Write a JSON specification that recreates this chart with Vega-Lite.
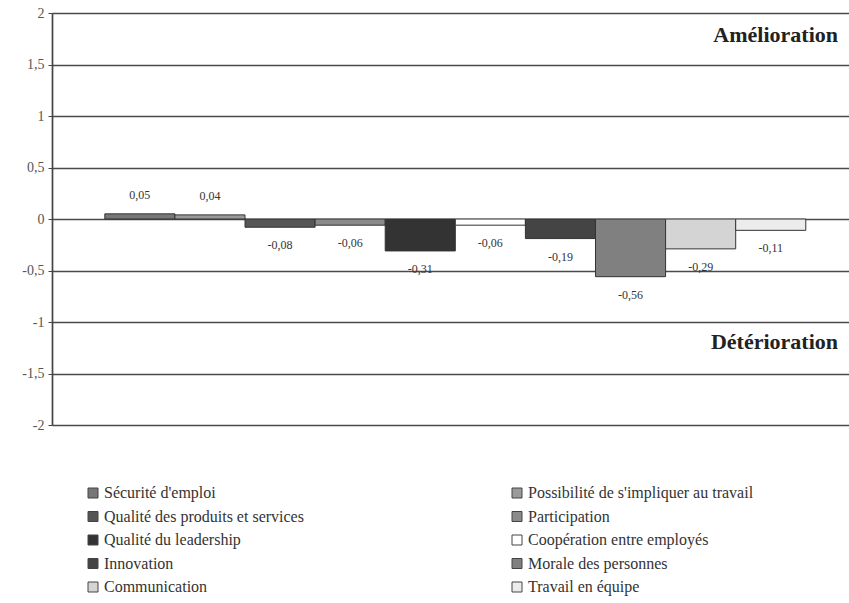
{
  "$schema": "https://vega.github.io/schema/vega-lite/v6.json",
  "width": 797,
  "height": 412,
  "autosize": "none",
  "padding": {"left": 52, "top": 13, "right": 0, "bottom": 178},
  "background": "white",
  "config": {
    "locale": {"number": {"decimal": ",", "thousands": " ", "grouping": [3], "currency": ["", " €"], "minus": "-"}},
    "view": {"stroke": null},
    "font": "Liberation Serif"
  },
  "datasets": {
    "bars": [
      {"item": "Sécurité d'emploi", "value": 0.05},
      {"item": "Possibilité de s'impliquer au travail", "value": 0.04},
      {"item": "Qualité des produits et services", "value": -0.08},
      {"item": "Participation", "value": -0.06},
      {"item": "Qualité du leadership", "value": -0.31},
      {"item": "Coopération entre employés", "value": -0.06},
      {"item": "Innovation", "value": -0.19},
      {"item": "Morale des personnes", "value": -0.56},
      {"item": "Communication", "value": -0.29},
      {"item": "Travail en équipe", "value": -0.11}
    ],
    "notes": [
      {"note": "Amélioration", "y": 1.79},
      {"note": "Détérioration", "y": -1.19}
    ]
  },
  "layer": [
    {
      "data": {"name": "bars"},
      "mark": {"type": "bar", "stroke": "#333333", "strokeWidth": 1},
      "encoding": {
        "x": {
          "field": "item", "type": "nominal", "sort": null, "axis": null,
          "scale": {"paddingInner": 0, "paddingOuter": 0.685, "align": 0.55}
        },
        "y": {
          "field": "value", "type": "quantitative",
          "scale": {"domain": [-2, 2], "nice": false},
          "axis": {
            "values": [-2, -1.5, -1, -0.5, 0, 0.5, 1, 1.5, 2],
            "format": "~g",
            "title": null,
            "grid": true,
            "gridColor": "#4a4a4a",
            "gridWidth": 1.7,
            "domain": true,
            "domainColor": "#444444",
            "domainWidth": 1.7,
            "ticks": true,
            "tickSize": 4,
            "tickColor": "#444444",
            "labelFont": "Liberation Serif",
            "labelFontSize": 14,
            "labelColor": "#555555",
            "labelPadding": 4
          }
        },
        "color": {
          "field": "item", "type": "nominal",
          "scale": {
            "domain": ["Sécurité d'emploi", "Qualité des produits et services", "Qualité du leadership", "Innovation", "Communication", "Possibilité de s'impliquer au travail", "Participation", "Coopération entre employés", "Morale des personnes", "Travail en équipe"],
            "range": ["#777777", "#555555", "#333333", "#444444", "#d4d4d4", "#9a9a9a", "#8a8a8a", "#ffffff", "#808080", "#ececec"]
          },
          "legend": {
            "title": null,
            "orient": "none",
            "legendX": 33,
            "legendY": 472,
            "columns": 2,
            "columnPadding": 205,
            "rowPadding": 7.5,
            "symbolType": "square",
            "symbolSize": 100,
            "symbolStrokeColor": "#444444",
            "symbolStrokeWidth": 1,
            "labelFont": "Liberation Serif",
            "labelFontSize": 16,
            "labelColor": "#333333",
            "labelOffset": 3,
            "labelLimit": 400
          }
        }
      }
    },
    {
      "data": {"name": "bars"},
      "transform": [{"filter": "datum.value >= 0"}],
      "mark": {"type": "text", "baseline": "bottom", "dy": -12, "fontSize": 12, "color": "#333333", "font": "Liberation Serif"},
      "encoding": {
        "x": {"field": "item", "type": "nominal", "sort": null},
        "y": {"field": "value", "type": "quantitative"},
        "text": {"field": "value", "type": "quantitative", "format": ".2f"}
      }
    },
    {
      "data": {"name": "bars"},
      "transform": [{"filter": "datum.value < 0"}],
      "mark": {"type": "text", "baseline": "top", "dy": 13, "fontSize": 12, "color": "#333333", "font": "Liberation Serif"},
      "encoding": {
        "x": {"field": "item", "type": "nominal", "sort": null},
        "y": {"field": "value", "type": "quantitative"},
        "text": {"field": "value", "type": "quantitative", "format": ".2f"}
      }
    },
    {
      "data": {"name": "notes"},
      "mark": {"type": "text", "align": "right", "baseline": "middle", "x": {"expr": "width - 11"}, "fontSize": 22, "fontWeight": "bold", "color": "#222222", "font": "Liberation Serif"},
      "encoding": {
        "y": {"field": "y", "type": "quantitative"},
        "text": {"field": "note", "type": "nominal"}
      }
    }
  ]
}
